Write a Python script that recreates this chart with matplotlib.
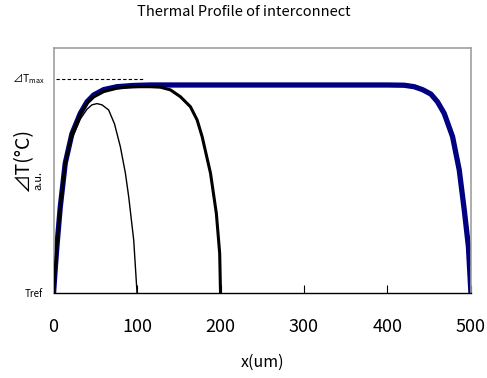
import matplotlib
matplotlib.use("Agg")
import matplotlib.pyplot as plt

plt.rcParams["font.family"] = ["Noto Sans CJK JP", "DejaVu Sans"]

# ── data (y in arbitrary units) ───────────────────────────────────
x_500 = [0, 2, 4, 8, 14, 22, 32, 40, 48, 60, 76, 95, 116, 200, 300, 400,
         420, 432, 442, 452, 460, 468, 478, 486, 492, 497, 500]
y_500 = [0, 0.10, 0.19, 0.35, 0.53, 0.65, 0.733, 0.78, 0.808, 0.83, 0.842,
         0.847, 0.849, 0.849, 0.849, 0.849, 0.848, 0.842, 0.83, 0.812, 0.78,
         0.733, 0.638, 0.502, 0.339, 0.189, 0]

x_200 = [0, 2, 4, 8, 14, 22, 32, 40, 48, 60, 76, 90, 104, 116, 128, 140, 152,
         164, 172, 178, 188, 195, 199, 200]
y_200 = [0, 0.10, 0.19, 0.35, 0.53, 0.65, 0.73, 0.775, 0.80, 0.822, 0.836,
         0.841, 0.842, 0.842, 0.84, 0.829, 0.801, 0.76, 0.706, 0.638, 0.489,
         0.325, 0.162, 0]

x_100 = [0, 2, 4, 8, 14, 22, 32, 40, 46, 52, 58, 66, 73, 80, 86, 90, 96, 100]
y_100 = [0, 0.10, 0.19, 0.35, 0.52, 0.63, 0.71, 0.75, 0.768, 0.773, 0.768,
         0.747, 0.69, 0.597, 0.49, 0.393, 0.216, 0]

xticks = [0, 100, 200, 300, 400, 500]
t_max = 0.873

fig = plt.figure(figsize=(4.87, 3.78), dpi=100)
ax = fig.add_axes([0.110, 0.225, 0.857, 0.648])

ax.plot(x_100, y_100, color="black", lw=1.0, zorder=3)
ax.plot(x_500, y_500, color="#000080", lw=3.8, zorder=2)
ax.plot(x_200, y_200, color="black", lw=2.2, zorder=3)
ax.plot([3, 107], [t_max, t_max], color="black", lw=0.8,
        linestyle=(0, (3, 2)), zorder=4)

ax.set_xlim(0, 500)
ax.set_ylim(0, 1)
ax.set_xticks(xticks)
ax.set_xticklabels([str(v) for v in xticks], fontsize=13)
ax.set_yticks([])
ax.tick_params(axis="x", direction="in", length=6, width=0.8, pad=18)

for s in ["left", "top", "right"]:
    ax.spines[s].set_color("#a0a0a0")
    ax.spines[s].set_linewidth(1.2)
ax.spines["bottom"].set_color("black")
ax.spines["bottom"].set_linewidth(1.0)

ax.set_xlabel("x(um)", fontsize=11.5, labelpad=13)
fig.text(0.50, 0.968, "Thermal Profile of interconnect", ha="center",
         va="center", fontsize=10.5)

# y-axis annotations
fig.text(0.047, 0.577, "⊿T(°C)", rotation=90, ha="center", va="center",
         fontsize=14)
fig.text(0.078, 0.522, "a.u.", rotation=90, ha="center", va="center",
         fontsize=8)
fig.text(0.058, 0.793, "⊿T$_{\\mathregular{max}}$", ha="center", va="center",
         fontsize=7.5)
fig.text(0.070, 0.222, "Tref", ha="center", va="center", fontsize=7)

fig.savefig("out.png", dpi=100)
